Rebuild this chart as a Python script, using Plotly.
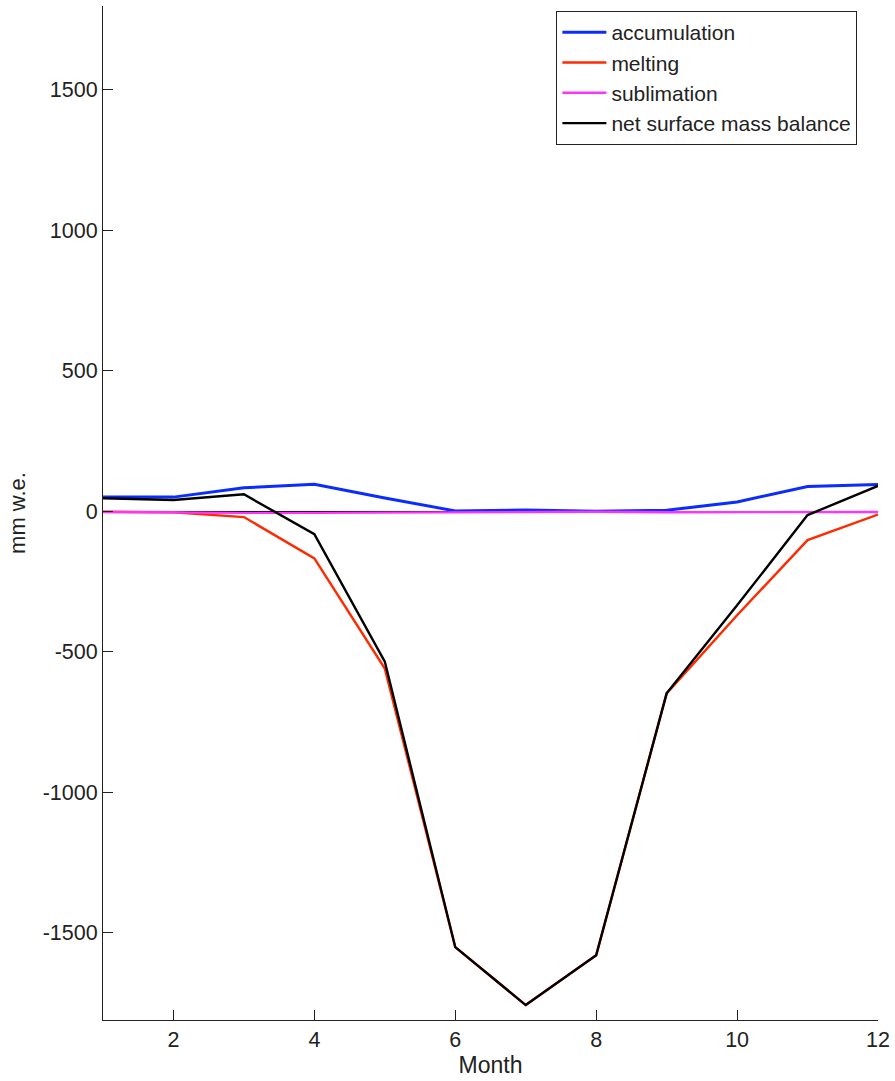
import plotly.graph_objects as go

months = [1, 2, 3, 4, 5, 6, 7, 8, 9, 10, 11, 12]
accumulation = [50, 50, 83, 96, 47, 1, 4, 0, 3, 33, 88, 95]
melting = [-2, -4, -21, -168, -560, -1551, -1757, -1580, -648, -370, -103, -12]
sublimation = [-3, -5, -6, -6, -5, -2, -1, -2, -4, -3, -4, -3]
net_balance = [46, 40, 60, -82, -535, -1551, -1757, -1580, -648, -335, -14, 90]

y_tickvals = [-1500, -1000, -500, 0, 500, 1000, 1500]
y_ticktext = ["-1500", "-1000", "-500", "0", "500", "1000", "1500"]
x_tickvals = [2, 4, 6, 8, 10, 12]

font_family = "Liberation Sans, Arial, Helvetica, sans-serif"

fig = go.Figure()
fig.add_trace(go.Scatter(x=months, y=accumulation, mode="lines", name="accumulation",
                         line=dict(color="#0a2cff", width=3)))
fig.add_trace(go.Scatter(x=months, y=melting, mode="lines", name="melting",
                         line=dict(color="#ff2a00", width=2.4)))
fig.add_trace(go.Scatter(x=months, y=sublimation, mode="lines", name="sublimation",
                         line=dict(color="#ff33ff", width=2.4)))
fig.add_trace(go.Scatter(x=months, y=net_balance, mode="lines", name="net surface mass balance",
                         line=dict(color="#000000", width=2.4)))

fig.update_layout(
    width=895, height=1081,
    margin=dict(l=103, r=17, t=6, b=61),
    paper_bgcolor="white", plot_bgcolor="white",
    font=dict(family=font_family, size=21, color="#222222"),
    showlegend=True,
    legend=dict(x=0.585, y=0.995, xanchor="left", yanchor="top",
                bgcolor="white", bordercolor="#222222", borderwidth=1,
                font=dict(size=21, color="#222222"), tracegroupgap=0,
                itemwidth=44),
    xaxis=dict(range=[1, 12], tickvals=x_tickvals, ticks="inside", ticklen=10,
               tickcolor="#222222", showline=True, linecolor="#222222", linewidth=1,
               showgrid=False, zeroline=False, mirror=False,
               tickfont=dict(size=21.5),
               title=dict(text="Month", standoff=6, font=dict(size=23))),
    yaxis=dict(range=[-1810, 1797], tickvals=y_tickvals, ticktext=y_ticktext,
               ticks="inside", ticklen=10, tickcolor="#222222",
               showline=True, linecolor="#222222", linewidth=1,
               showgrid=False, zeroline=True, zerolinecolor="#000000", zerolinewidth=1,
               tickfont=dict(size=21.5),
               title=dict(text="mm w.e.", standoff=11, font=dict(size=22))),
)

fig.write_html("out.html")
